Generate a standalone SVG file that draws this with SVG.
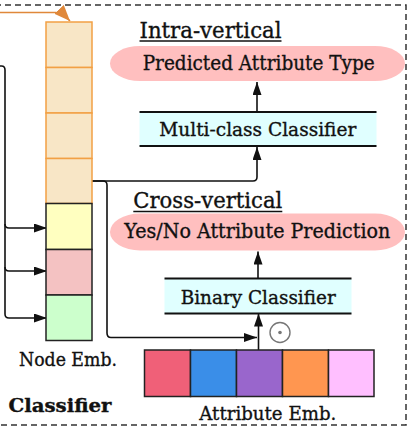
<svg xmlns="http://www.w3.org/2000/svg" width="413" height="430" viewBox="0 0 413 430">
<style>
.t{font-family:"DejaVu Serif","Liberation Serif",serif;fill:#111;stroke:#111;stroke-width:0.35}
.c{stroke:#111;stroke-width:1.6;fill:none}
.bar{stroke:#111;stroke-width:1.8}
.oc{fill:#f8e6c6;stroke:#f2a044;stroke-width:1.5}
.cell{stroke:#222;stroke-width:1.5}
</style>
<defs>
<marker id="ah" markerUnits="userSpaceOnUse" markerWidth="14" markerHeight="10" refX="13" refY="4.5" orient="auto">
<path d="M0,0 L13,4.5 L0,9 z" fill="#111"/>
</marker>
<marker id="ao" markerUnits="userSpaceOnUse" markerWidth="18" markerHeight="14" refX="16" refY="6.5" orient="auto">
<path d="M0,0 L16,6.5 L0,13 z" fill="#e0883a"/>
</marker>
</defs>
<rect x="-5" y="5" width="411" height="420" fill="none" stroke="#333" stroke-width="1.5" stroke-dasharray="6 4"/>
<g id="connectors">
<path d="M0,12.5 H56 Q62,12.5 70,21" fill="none" stroke="#e0883a" stroke-width="1.5" marker-end="url(#ao)"/>
<path class="c" d="M0,66 H1.5 Q5,66 5,70 V314 Q5,318 9,318 H47" marker-end="url(#ah)"/>
<path class="c" d="M5,224 Q5,228 9,228 H47" marker-end="url(#ah)"/>
<path class="c" d="M5,267 Q5,271 9,271 H47" marker-end="url(#ah)"/>
<path class="c" d="M92,181 H253 Q257,181 257,177 V147" marker-end="url(#ah)"/>
<path class="c" d="M92,181 H103 Q107,181 107,185 V333 Q107,337.5 111,337.5 H257" marker-end="url(#ah)"/>
<path class="c" d="M258.5,350 V313.5" marker-end="url(#ah)"/>
<path class="c" d="M258,278 V251.5" marker-end="url(#ah)"/>
<path class="c" d="M257,112 V82" marker-end="url(#ah)"/>
</g>
<g id="node-emb">
<rect class="oc" x="46" y="22" width="46" height="45.5"/>
<rect class="oc" x="46" y="67.5" width="46" height="45.5"/>
<rect class="oc" x="46" y="113" width="46" height="45.5"/>
<rect class="oc" x="46" y="158.5" width="46" height="45"/>
<rect class="cell" x="46" y="203.5" width="46" height="46" fill="#ffffc0"/>
<rect class="cell" x="46" y="249.5" width="46" height="45.5" fill="#f4c2c2"/>
<rect class="cell" x="46" y="295" width="46" height="45.5" fill="#ccffcc"/>
<text class="t" x="19" y="366" font-size="18.5" textLength="98" lengthAdjust="spacingAndGlyphs">Node Emb.</text>
</g>
<g id="classifier-label">
<text class="t" x="8.5" y="412" font-size="18" font-weight="bold" textLength="103" lengthAdjust="spacingAndGlyphs">Classifier</text>
</g>
<g id="intra-vertical">
<text class="t" x="139.5" y="37.5" font-size="22" textLength="142" lengthAdjust="spacingAndGlyphs">Intra-vertical</text>
<line x1="139.5" y1="41" x2="281.5" y2="41" stroke="#111" stroke-width="1.3"/>
</g>
<g id="predicted-type">
<rect x="110" y="46" width="295" height="35" rx="30" ry="17.5" fill="#ffbfbf"/>
<text class="t" x="142.7" y="70" font-size="19.5" textLength="232" lengthAdjust="spacingAndGlyphs">Predicted Attribute Type</text>
</g>
<g id="multi-class">
<rect x="139.5" y="112" width="237" height="34" fill="#e0ffff"/>
<line class="bar" x1="139.5" y1="112" x2="376.5" y2="112"/>
<line class="bar" x1="139.5" y1="146" x2="376.5" y2="146"/>
<text class="t" x="159.3" y="135.5" font-size="19" textLength="197" lengthAdjust="spacingAndGlyphs">Multi-class Classifier</text>
</g>
<g id="cross-vertical">
<text class="t" x="133.3" y="208" font-size="22" textLength="149" lengthAdjust="spacingAndGlyphs">Cross-vertical</text>
<line x1="133.3" y1="211.5" x2="282.3" y2="211.5" stroke="#111" stroke-width="1.3"/>
</g>
<g id="yes-no">
<rect x="110" y="213.5" width="295" height="37" rx="30" ry="18.5" fill="#ffbfbf"/>
<text class="t" x="124.3" y="238.3" font-size="19.5" textLength="266" lengthAdjust="spacingAndGlyphs">Yes/No Attribute Prediction</text>
</g>
<g id="binary">
<rect x="164.5" y="278.5" width="187" height="35" fill="#e0ffff"/>
<line class="bar" x1="164.5" y1="278.5" x2="351.5" y2="278.5"/>
<line class="bar" x1="164.5" y1="313.5" x2="351.5" y2="313.5"/>
<text class="t" x="180.7" y="303.5" font-size="19" textLength="155" lengthAdjust="spacingAndGlyphs">Binary Classifier</text>
</g>
<g id="odot">
<circle cx="280" cy="332.5" r="10" fill="none" stroke="#777" stroke-width="1.4"/>
<circle cx="280" cy="332.5" r="1.8" fill="#777"/>
</g>
<g id="attr-emb">
<rect class="cell" x="144.5" y="350" width="46" height="46.5" fill="#f06078"/>
<rect class="cell" x="190.5" y="350" width="46" height="46.5" fill="#3a8ee8"/>
<rect class="cell" x="236.5" y="350" width="46" height="46.5" fill="#9966cc"/>
<rect class="cell" x="282.5" y="350" width="46" height="46.5" fill="#ff9650"/>
<rect class="cell" x="328.5" y="350" width="45.5" height="46.5" fill="#ffbfff"/>
<text class="t" x="199.3" y="420" font-size="19" textLength="137" lengthAdjust="spacingAndGlyphs">Attribute Emb.</text>
</g>
</svg>
